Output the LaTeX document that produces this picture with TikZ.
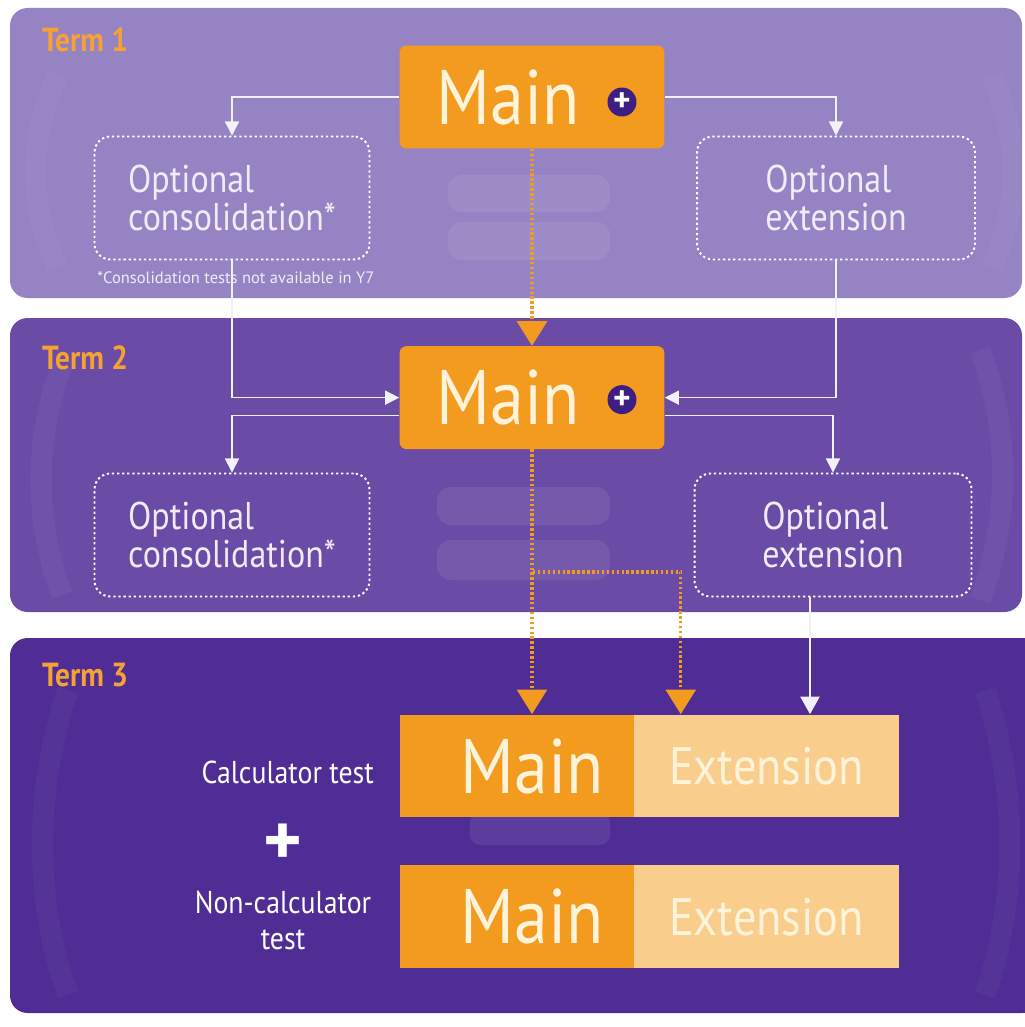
\documentclass[tikz,border=0pt]{standalone}
\usepackage{fontspec}
\setmainfont{PT Sans}
\newfontfamily\dinfont[FakeStretch=0.88]{PT Sans}
\usetikzlibrary{positioning,arrows.meta}
\definecolor{termone}{HTML}{9683C3}
\definecolor{termtwo}{HTML}{6A4CA6}
\definecolor{termthree}{HTML}{4F2D95}
\definecolor{mainorange}{HTML}{F39B1F}
\definecolor{lightorange}{HTML}{F9CE8C}
\definecolor{maintext}{HTML}{FFF3DA}
\definecolor{opttext}{HTML}{F1EBF8}
\definecolor{plusdark}{HTML}{3E1E82}
\definecolor{termorange}{HTML}{F5A133}

\begin{document}
\begin{tikzpicture}[x=0.02cm,y=-0.02cm]
\tikzstyle{panel}=[rounded corners=10pt]
\tikzstyle{ghost}=[white, opacity=0.035]
\tikzstyle{termlabel}=[anchor=west, text=termorange, font=\dinfont\bfseries\fontsize{19}{19}\selectfont]
\tikzstyle{mainbox}=[rectangle, fill=mainorange, text=maintext, rounded corners=4pt, minimum height=2.06cm, inner xsep=0.74cm, text width=3.82cm, align=left, font=\dinfont\fontsize{44}{44}\selectfont]
\tikzstyle{plusdot}=[circle, fill=plusdark, text=white, minimum size=0.58cm, inner sep=0pt, font=\bfseries\fontsize{19}{19}\selectfont]
\tikzstyle{optbox}=[rectangle, draw=white, line width=1.1pt, dash pattern=on 1.3pt off 1.6pt, rounded corners=9pt, minimum width=5.5cm, minimum height=2.46cm, align=left, text=opttext, font=\dinfont\fontsize{22}{21.6}\selectfont]
\tikzstyle{partmain}=[rectangle, fill=mainorange, text=maintext, minimum width=4.7cm, minimum height=2.06cm, inner sep=0pt, font=\dinfont\fontsize{44}{44}\selectfont]
\tikzstyle{partext}=[rectangle, fill=lightorange, text=maintext, minimum width=5.3cm, minimum height=2.06cm, inner sep=0pt, font=\dinfont\fontsize{30}{30}\selectfont]
\tikzstyle{testlabel}=[text=white, align=center, inner xsep=0pt, font=\dinfont\fontsize{18}{20.5}\selectfont]
\tikzstyle{connect}=[-{Triangle[width=8pt,length=8pt]}, draw=white!88!termone, line width=0.8pt]
\tikzstyle{flow}=[-{Triangle[width=17pt,length=14pt]}, draw=mainorange, line width=1.8pt, dash pattern=on 1.4pt off 1.4pt]
  \useasboundingbox (0,0) rectangle (1024,1027);
  % panels
  \fill[termone, panel] (10,8) rectangle (1022,298);
  \fill[termtwo, panel] (10,318) rectangle (1022,612);
  \fill[termthree, panel] (10,638) rectangle (1040,1013);
  % faint background marks
  \draw[ghost, line width=12pt] (58,75) .. controls (28,140) and (28,205) .. (58,268);
  \draw[ghost, line width=12pt] (992,75) .. controls (1020,140) and (1020,205) .. (992,268);
  \draw[ghost, line width=12pt] (62,365) .. controls (34,440) and (34,520) .. (62,595);
  \draw[ghost, line width=12pt] (980,350) .. controls (1010,430) and (1010,520) .. (980,600);
  \draw[ghost, line width=12pt] (68,690) .. controls (34,790) and (34,900) .. (68,995);
  \draw[ghost, line width=12pt] (985,690) .. controls (1018,790) and (1018,900) .. (985,995);
  \fill[white, opacity=0.08, rounded corners=8pt] (448,175) rectangle (610,212);
  \fill[white, opacity=0.08, rounded corners=8pt] (448,222) rectangle (610,260);
  \fill[white, opacity=0.08, rounded corners=8pt] (437,487) rectangle (610,525);
  \fill[white, opacity=0.08, rounded corners=8pt] (437,540) rectangle (610,580);
  \fill[white, opacity=0.08, rounded corners=6pt] (470,812) rectangle (610,845);

  \node[termlabel] (term1) at (36,40) {Term 1};
  \node[termlabel] (term2) at (36,358) {Term 2};
  \node[termlabel] (term3) at (36,675) {Term 3};

  \node[mainbox] (main1) at (532,97) {Main};
  \node[plusdot, left=0.56cm of main1.east, yshift=-0.1cm] (plus1) {+};
  \node[optbox] (cons1) at (232,198) {Optional\\consolidation*};
  \node[optbox, minimum width=5.56cm] (ext1) at (836,198) {Optional\\extension};
  \node[anchor=north west, text=white!85!termone, inner sep=0pt, font=\fontsize{9.4}{10}\selectfont] (note1) at (97,271) {*Consolidation tests not available in Y7};

  \node[mainbox, below=3.94cm of main1] (main2) {Main};
  \node[plusdot, left=0.56cm of main2.east, yshift=-0.04cm] (plus2) {+};
  \node[optbox] (cons2) at (232,535) {Optional\\consolidation*};
  \node[optbox, minimum width=5.54cm] (ext2) at (833,535) {Optional\\extension};

  \node[partmain] (main3) at (517,766) {\hspace*{0.6cm}Main};
  \node[partext, right=-0.6pt of main3] (ext3) {Extension};
  \node[partmain, below=0.94cm of main3] (main4) {\hspace*{0.6cm}Main};
  \node[partext, right=-0.6pt of main4] (ext4) {Extension};

  \node[testlabel, left=0.5cm of main3, yshift=-0.12cm] (calc) {Calculator test};
  \node[text=white, font=\bfseries\fontsize{42}{42}\selectfont, inner sep=0pt] (plus3) at (283,845) {+};
  \node[testlabel] (noncalc) at (283,920) {Non-calculator\\test};

  % connectors
  \path (main1) edge [flow] (main2);
  \draw[connect] (main1.west) -| (cons1.north);
  \draw[connect] (main1.east) -| (ext1.north);
  \draw[connect] (cons1.south) |- (main2.west);
  \draw[connect] (ext1.south) |- (main2.east);
  \draw[connect] ([yshift=-0.36cm]main2.west) -| (cons2.north);
  \draw[connect] ([yshift=-0.36cm]main2.east) -| (ext2.north);
  \coordinate (fork) at (533,572);
  \coordinate (ext2out) at ([xshift=-0.46cm]ext2.south);
  \draw[flow] (main2.south) -- (main2.south |- main3.north);
  \draw[flow] (fork) -| ([xshift=0.94cm]ext3.north west);
  \draw[connect, -{Triangle[width=11pt,length=10pt]}] (ext2out) -- (ext2out |- ext3.north);
\end{tikzpicture}
\end{document}
